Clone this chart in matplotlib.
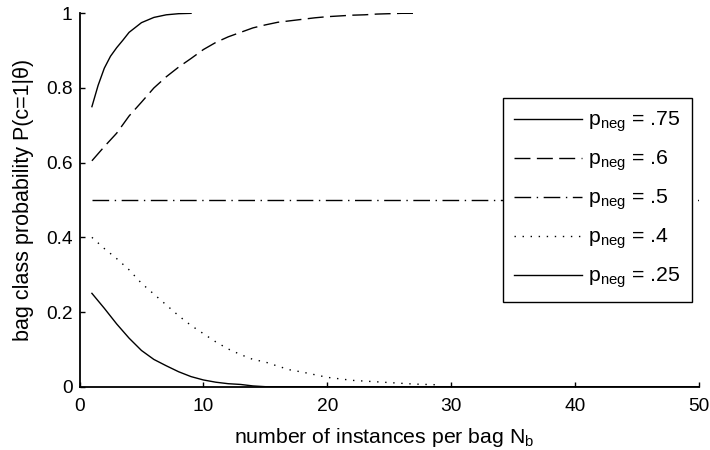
import numpy as np
import matplotlib
matplotlib.use("Agg")
import matplotlib.pyplot as plt
from matplotlib.ticker import FuncFormatter

plt.rcParams['font.family'] = ['Liberation Sans', 'DejaVu Sans']
plt.rcParams['mathtext.fontset'] = 'custom'
plt.rcParams['mathtext.rm'] = 'Liberation Sans'
plt.rcParams['mathtext.it'] = 'Liberation Sans'

# bag class probability vs. number of instances, one curve per p_neg
n_75 = [1, 1.5, 2, 2.5, 3, 3.5, 4, 5, 6, 7, 8, 9]
p_75 = [0.75, 0.807, 0.853, 0.885, 0.908, 0.928, 0.949, 0.975, 0.989, 0.996, 0.999, 1.0]

n_6 = list(range(1, 28))
p_6 = [0.605, 0.643, 0.679, 0.725, 0.762, 0.80, 0.83, 0.856, 0.879, 0.903,
       0.922, 0.937, 0.949, 0.961, 0.969, 0.976, 0.980, 0.984, 0.988, 0.991,
       0.993, 0.995, 0.996, 0.998, 0.999, 1.0, 1.0]

n_5 = [1, 50]
p_5 = [0.5, 0.5]

n_4 = list(range(1, 30))
p_4 = [0.40, 0.37, 0.343, 0.313, 0.277, 0.248, 0.219, 0.190, 0.164, 0.142,
       0.120, 0.101, 0.086, 0.073, 0.066, 0.055, 0.045, 0.039, 0.032, 0.025,
       0.021, 0.017, 0.015, 0.013, 0.011, 0.009, 0.007, 0.006, 0.005]

n_25 = [1, 2, 3, 4, 5, 6, 7, 8, 9, 10, 11, 12, 13, 14, 15, 50]
p_25 = [0.25, 0.21, 0.168, 0.13, 0.097, 0.073, 0.056, 0.04, 0.027, 0.018,
        0.012, 0.008, 0.006, 0.002, 0.0, 0.0]

labels = [r'p$_{\mathrm{neg}}$ = .75', r'p$_{\mathrm{neg}}$ = .6', r'p$_{\mathrm{neg}}$ = .5',
          r'p$_{\mathrm{neg}}$ = .4', r'p$_{\mathrm{neg}}$ = .25']

fig = plt.figure(figsize=(7.1, 4.5), dpi=100)
ax = fig.add_axes([0.112, 0.1407, 0.8725, 0.8297])

lw = 1.0
ax.plot(n_75, p_75, color='k', lw=lw, ls='-', label=labels[0])
ax.plot(n_6, p_6, color='k', lw=lw, ls=(0, (11.5, 4.6)), label=labels[1])
ax.plot(n_5, p_5, color='k', lw=lw, ls=(0, (12, 4, 1, 4)), label=labels[2])
ax.plot(n_4, p_4, color='k', lw=lw, ls=(0, (1, 4.8)), label=labels[3])
ax.plot(n_25, p_25, color='k', lw=lw, ls='-', label=labels[4])

ax.set_xlim(0, 50)
ax.set_ylim(0, 1)
ax.set_xticks([0, 10, 20, 30, 40, 50])
ax.set_yticks([0, 0.2, 0.4, 0.6, 0.8, 1])
ax.yaxis.set_major_formatter(FuncFormatter(lambda v, p: '%g' % v))
ax.spines['top'].set_visible(False)
ax.spines['right'].set_visible(False)
for s in ('left', 'bottom'):
    ax.spines[s].set_linewidth(1.3)
ax.tick_params(direction='in', length=3.6, width=1.0, labelsize=13.8)
ax.tick_params(axis='x', pad=8.5)
ax.tick_params(axis='y', pad=5)

ax.set_xlabel(r'number of instances per bag N$_{\mathrm{b}}$', fontsize=15.3)
ax.set_ylabel(r'bag class probability P(c=1|θ)', fontsize=15.5)
ax.xaxis.set_label_coords(0.4926, -0.105)
ax.yaxis.set_label_coords(-0.073, 0.5)

leg = ax.legend(loc='upper right', bbox_to_anchor=(0.988, 0.7724), borderaxespad=0,
                fontsize=15.3, fancybox=False, framealpha=1, edgecolor='k',
                handlelength=3.2, handletextpad=0.25, labelspacing=0.68, borderpad=0.55)
leg.get_frame().set_linewidth(1.0)

fig.savefig('out.png', dpi=100)
